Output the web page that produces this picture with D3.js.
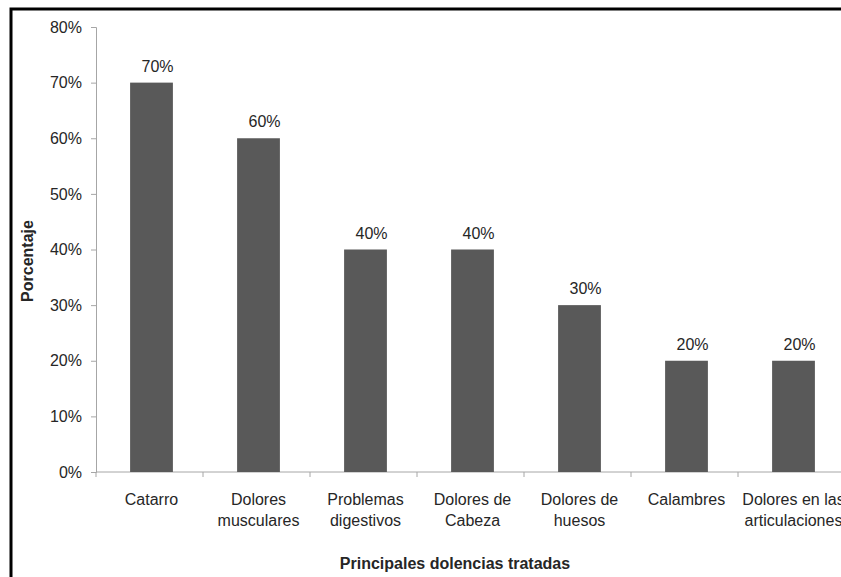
<!DOCTYPE html>
<html>
<head>
<meta charset="utf-8">
<script src="https://cdn.jsdelivr.net/npm/d3@7"></script>
<style>
  html, body { margin: 0; padding: 0; background: #fff; }
  svg { display: block; font-family: "Liberation Sans", Arial, sans-serif; }
</style>
</head>
<body>
<svg id="chart" width="841" height="577"></svg>
<script>
// Ailments treated and share of respondents
const categories = [
  ["Catarro"],
  ["Dolores", "musculares"],
  ["Problemas", "digestivos"],
  ["Dolores de", "Cabeza"],
  ["Dolores de", "huesos"],
  ["Calambres"],
  ["Dolores en las", "articulaciones"]
];
const values = [0.70, 0.60, 0.40, 0.40, 0.30, 0.20, 0.20];
const yTicks = [0, 0.1, 0.2, 0.3, 0.4, 0.5, 0.6, 0.7, 0.8];

const svg = d3.select("#chart");
const keys = categories.map(c => c.join(" "));

const x = d3.scaleBand()
  .domain(keys)
  .range([96, 845])
  .paddingInner(0.6)
  .paddingOuter(0.3);

const y = d3.scaleLinear()
  .domain([0, 0.8])
  .range([472, 27]);

const pct = d3.format(".0%");
const axisColor = "#a6a6a6";
const textColor = "#262626";
const fs = "16px";

// frame
svg.append("path")
  .attr("d", "M11,577 V9 H841")
  .attr("fill", "none")
  .attr("stroke", "#000")
  .attr("stroke-width", 3);

// y axis
const yAxis = svg.append("g")
  .attr("transform", "translate(96,0)")
  .call(d3.axisLeft(y).tickValues(yTicks).tickFormat(pct).tickSize(5).tickPadding(9));
yAxis.select(".domain").attr("stroke", axisColor);
yAxis.selectAll(".tick line").attr("stroke", axisColor);
yAxis.selectAll(".tick text")
  .attr("fill", textColor)
  .style("font-size", fs);

// x axis line with ticks at category boundaries
const step = x.step();
const start = x.range()[0];
svg.append("line")
  .attr("x1", 96).attr("x2", 845)
  .attr("y1", y(0)).attr("y2", y(0))
  .attr("stroke", axisColor);
svg.selectAll(".xtick")
  .data(d3.range(categories.length + 1))
  .join("line")
  .attr("class", "xtick")
  .attr("x1", i => start + i * step)
  .attr("x2", i => start + i * step)
  .attr("y1", y(0))
  .attr("y2", y(0) + 5)
  .attr("stroke", axisColor);

// bars
svg.selectAll(".bar")
  .data(values)
  .join("rect")
  .attr("class", "bar")
  .attr("x", (d, i) => x(keys[i]) + 2)
  .attr("width", x.bandwidth())
  .attr("y", d => y(d))
  .attr("height", d => y(0) - y(d))
  .attr("fill", "#595959");

// value labels
svg.selectAll(".val")
  .data(values)
  .join("text")
  .attr("class", "val")
  .attr("x", (d, i) => x(keys[i]) + 2 + x.bandwidth() / 2 + 6)
  .attr("y", d => y(d) - 11)
  .attr("text-anchor", "middle")
  .attr("fill", textColor)
  .style("font-size", fs)
  .text(d => pct(d));

// category labels
const catText = svg.selectAll(".cat")
  .data(categories)
  .join("text")
  .attr("class", "cat")
  .attr("text-anchor", "middle")
  .attr("fill", textColor)
  .style("font-size", fs);
catText.selectAll("tspan")
  .data((lines, i) => lines.map(l => ({ l, i })))
  .join("tspan")
  .attr("x", d => x(keys[d.i]) + x.bandwidth() / 2 + 2)
  .attr("y", (d, j) => 505 + j * 21)
  .text(d => d.l);

// axis titles
svg.append("text")
  .attr("x", 455)
  .attr("y", 569)
  .attr("text-anchor", "middle")
  .attr("fill", textColor)
  .style("font-size", fs)
  .style("font-weight", "bold")
  .text("Principales dolencias tratadas");

svg.append("text")
  .attr("transform", "translate(33,261) rotate(-90)")
  .attr("text-anchor", "middle")
  .attr("fill", textColor)
  .style("font-size", fs)
  .style("font-weight", "bold")
  .text("Porcentaje");
</script>
</body>
</html>
